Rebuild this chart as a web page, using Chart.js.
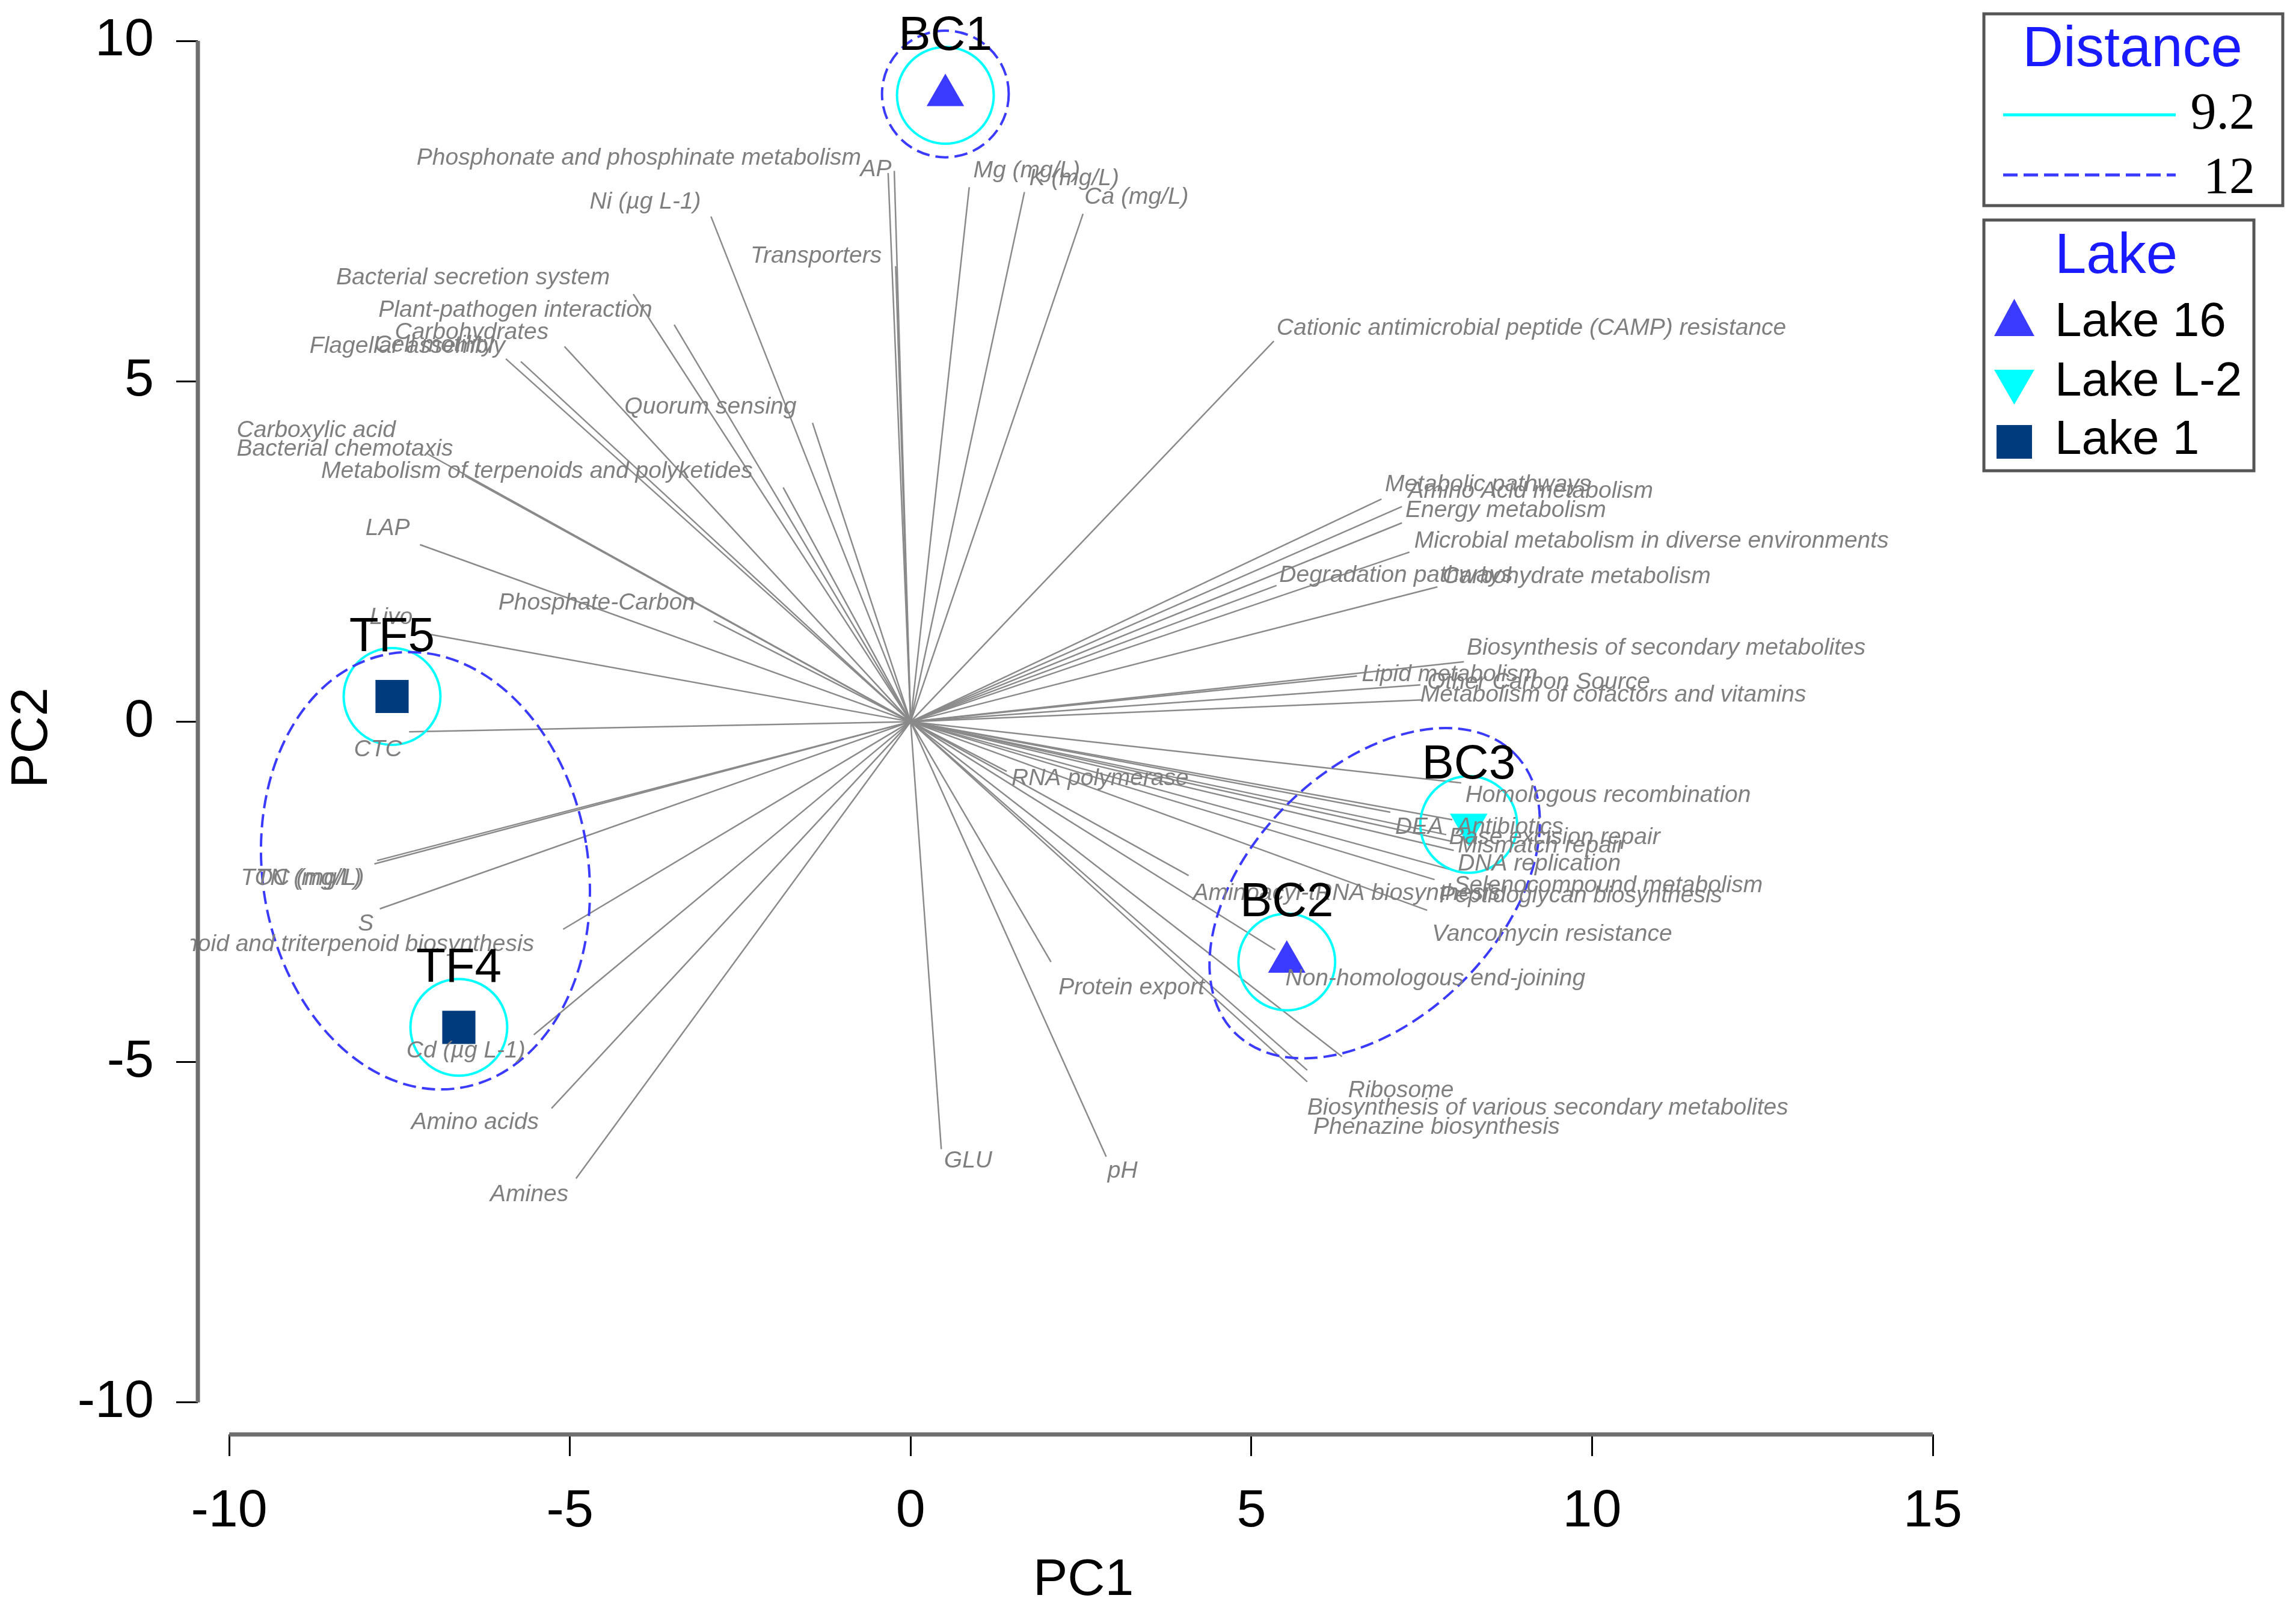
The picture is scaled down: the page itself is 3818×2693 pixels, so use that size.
<!DOCTYPE html>
<html lang="en">
<head>
<meta charset="UTF-8">
<title>PCA biplot</title>
<script src="https://cdn.jsdelivr.net/npm/chart.js"></script>
<style>
  html, body { margin: 0; padding: 0; background: #fff; }
  #wrap { width: 3818px; height: 2693px; }
</style>
</head>
<body>
<div id="wrap"><canvas id="biplot" width="3818" height="2693"></canvas></div>
<script>
// sample scores (PC1, PC2)
const sampleNames = ['BC1', 'BC2', 'BC3', 'TF4', 'TF5'];
const sampleLake  = ['Lake 16', 'Lake 16', 'Lake L-2', 'Lake 1', 'Lake 1'];
const sampleX = [0.51, 5.52, 8.19, -6.63, -7.61];
const sampleY = [9.20, -3.53, -1.51, -4.49, 0.37];

const lakeNames = ['Lake 16', 'Lake L-2', 'Lake 1'];

// distance contours (PC units)
const distanceLevels = ['9.2', '12'];
const innerRadius = 0.71;              // 9.2 ring round every sample
const outerX  = [0.51, -7.12, 6.81];   // 12 contours
const outerY  = [9.22, -2.19, -2.52];
const outerRx = [0.93, 2.39, 2.90];
const outerRy = [0.93, 3.23, 1.83];
const outerTilt = [0, -9, -45];

// variable vectors: end point and label anchor (left edge, middle)
const vectorNames = [
  'Phosphonate and phosphinate metabolism', 'AP', 'Mg (mg/L)', 'K (mg/L)', 'Ca (mg/L)',
  'Ni (µg L-1)', 'Transporters', 'Bacterial secretion system', 'Plant-pathogen interaction',
  'Carbohydrates', 'Cell motility', 'Flagellar assembly', 'Quorum sensing', 'Carboxylic acid',
  'Bacterial chemotaxis', 'Metabolism of terpenoids and polyketides', 'LAP', 'Phosphate-Carbon',
  'Livo', 'CTC', 'TOC (mg/L)', 'TN (mg/L)', 'S', 'Sesquiterpenoid and triterpenoid biosynthesis',
  'Cd (µg L-1)', 'Amino acids', 'Amines', 'GLU', 'pH', 'Protein export', 'Ribosome',
  'Biosynthesis of various secondary metabolites', 'Phenazine biosynthesis',
  'Non-homologous end-joining', 'Vancomycin resistance', 'Aminoacyl-tRNA biosynthesis',
  'Peptidoglycan biosynthesis', 'Selenocompound metabolism', 'DNA replication', 'Mismatch repair',
  'Base excision repair', 'Antibiotics', 'DEA', 'Homologous recombination', 'RNA polymerase',
  'Cationic antimicrobial peptide (CAMP) resistance', 'Metabolic pathways', 'Amino Acid metabolism',
  'Energy metabolism', 'Microbial metabolism in diverse environments', 'Degradation pathways',
  'Carbohydrate metabolism', 'Biosynthesis of secondary metabolites', 'Lipid metabolism',
  'Other Carbon Source', 'Metabolism of cofactors and vitamins'
];
const vectorX = [-0.33, -0.24, 0.86, 1.67, 2.53, -2.93, -0.22, -4.07, -3.47, -5.08, -5.72, -5.94,
  -1.44, -6.54, -7.10, -1.87, -7.20, -2.89, -7.10, -7.36, -7.87, -7.83, -7.79, -5.10, -5.53, -5.27,
  -4.91, 0.45, 2.87, 2.06, 6.33, 5.82, 5.82, 5.35, 7.58, 4.08, 7.69, 7.91, 7.97, 7.95, 7.86, 7.95,
  7.04, 8.08, 1.41, 5.33, 6.91, 7.21, 7.21, 7.32, 5.37, 7.73, 8.12, 6.55, 7.48, 7.50];
const vectorY = [8.06, 8.09, 7.85, 7.78, 7.46, 7.42, 6.69, 6.28, 5.83, 5.51, 5.29, 5.33, 4.39, 3.61,
  3.94, 3.44, 2.60, 1.48, 1.29, -0.15, -2.09, -2.04, -2.75, -3.05, -4.60, -5.68, -6.71, -6.28, -6.39,
  -3.53, -4.92, -5.12, -5.29, -3.35, -2.77, -2.26, -2.32, -2.17, -1.89, -1.76, -1.66, -1.44, -1.33,
  -0.90, -0.73, 5.59, 3.27, 3.16, 2.92, 2.49, 2.00, 1.98, 0.88, 0.67, 0.54, 0.32];
const labelX = [-7.25, -0.74, 0.92, 1.74, 2.55, -4.71, -2.35, -8.43, -7.81, -7.57, -7.87, -8.82,
  -4.20, -9.89, -9.89, -8.65, -8.00, -6.05, -7.94, -8.17, -9.83, -9.61, -8.11, -12.49, -7.40, -7.33,
  -6.17, 0.49, 2.89, 2.17, 6.42, 5.82, 5.91, 5.50, 7.65, 4.14, 7.76, 7.97, 8.03, 8.03, 7.90, 8.01,
  7.11, 8.14, 1.48, 5.37, 6.96, 7.30, 7.26, 7.39, 5.41, 7.80, 8.16, 6.62, 7.58, 7.48];
const labelY = [8.28, 8.11, 8.09, 7.98, 7.70, 7.63, 6.84, 6.52, 6.04, 5.72, 5.53, 5.51, 4.62, 4.28,
  4.00, 3.68, 2.84, 1.74, 1.53, -0.41, -2.30, -2.30, -2.97, -3.27, -4.84, -5.89, -6.95, -6.45, -6.60,
  -3.91, -5.42, -5.68, -5.96, -3.78, -3.12, -2.52, -2.56, -2.41, -2.09, -1.83, -1.70, -1.55, -1.55,
  -1.08, -0.84, 5.78, 3.48, 3.38, 3.10, 2.65, 2.15, 2.13, 1.08, 0.69, 0.58, 0.39];

const xTicks = [-10, -5, 0, 5, 10, 15];
const yTicks = [-10, -5, 0, 5, 10];

const lakeColor = { 'Lake 16': '#3b3bff', 'Lake L-2': '#00ffff', 'Lake 1': '#003c7d' };
const lakeStyle = { 'Lake 16': ['triangle', 0, 36], 'Lake L-2': ['triangle', 180, 36], 'Lake 1': ['rect', 0, 39] };
const FONT = '"Liberation Sans", Arial, sans-serif';

const datasets = [];
lakeNames.forEach(lake => {
  const pts = [];
  sampleNames.forEach((n, i) => { if (sampleLake[i] === lake) pts.push({ x: sampleX[i], y: sampleY[i] }); });
  datasets.push({
    label: lake, data: pts, order: 0,
    pointStyle: lakeStyle[lake][0], rotation: lakeStyle[lake][1], pointRadius: lakeStyle[lake][2],
    backgroundColor: lakeColor[lake], borderColor: lakeColor[lake], borderWidth: 0
  });
});
vectorNames.forEach((n, i) => {
  datasets.push({
    label: n, data: [{ x: 0, y: 0 }, { x: vectorX[i], y: vectorY[i] }], order: 1,
    showLine: true, borderColor: '#8a8a8a', borderWidth: 2.5, pointRadius: 0
  });
});

const overlay = {
  id: 'overlay',
  afterDatasetsDraw(chart) {
    const { ctx, scales: { x, y } } = chart;
    const px = v => x.getPixelForValue(v), py = v => y.getPixelForValue(v);
    const ux = px(1) - px(0), uy = py(0) - py(1);
    ctx.save();

    // 9.2 rings
    ctx.strokeStyle = '#00ffff';
    ctx.lineWidth = 4;
    sampleNames.forEach((n, i) => {
      ctx.beginPath();
      ctx.ellipse(px(sampleX[i]), py(sampleY[i]), innerRadius * ux, innerRadius * uy, 0, 0, Math.PI * 2);
      ctx.stroke();
    });
    // 12 contours
    ctx.strokeStyle = '#3b3bff';
    ctx.setLineDash([22, 10]);
    outerX.forEach((cx, i) => {
      ctx.beginPath();
      ctx.ellipse(px(cx), py(outerY[i]), outerRx[i] * ux, outerRy[i] * uy, outerTilt[i] * Math.PI / 180, 0, Math.PI * 2);
      ctx.stroke();
    });
    ctx.setLineDash([]);

    // vector labels
    ctx.save();
    ctx.beginPath();
    ctx.rect(317, 0, chart.width - 317, chart.height);
    ctx.clip();
    ctx.font = 'italic 39px ' + FONT;
    ctx.fillStyle = '#7f7f7f';
    ctx.textAlign = 'left';
    ctx.textBaseline = 'middle';
    vectorNames.forEach((n, i) => ctx.fillText(n, px(labelX[i]), py(labelY[i])));
    ctx.restore();

    // sample labels
    ctx.font = '80px ' + FONT;
    ctx.fillStyle = '#000';
    ctx.textAlign = 'center';
    ctx.textBaseline = 'middle';
    sampleNames.forEach((n, i) => ctx.fillText(n, px(sampleX[i]), py(sampleY[i]) - 98));

    // offset axis lines
    ctx.strokeStyle = '#6e6e6e';
    ctx.lineWidth = 7;
    ctx.beginPath();
    ctx.moveTo(x.left, py(yTicks[yTicks.length - 1]));
    ctx.lineTo(x.left, py(yTicks[0]));
    ctx.moveTo(px(xTicks[0]), y.bottom);
    ctx.lineTo(px(xTicks[xTicks.length - 1]), y.bottom);
    ctx.stroke();

    drawLegend(ctx);
    ctx.restore();
  }
};

function drawLegend(ctx) {
  ctx.save();
  ctx.strokeStyle = '#555';
  ctx.lineWidth = 5;
  ctx.strokeRect(3299, 23, 497, 319);
  ctx.strokeRect(3299, 366, 449, 417);

  ctx.fillStyle = '#1a1aff';
  ctx.font = '94px ' + FONT;
  ctx.textAlign = 'center';
  ctx.textBaseline = 'alphabetic';
  ctx.fillText('Distance', 3546, 110);
  ctx.fillText('Lake', 3519, 454);

  ctx.lineWidth = 5;
  ctx.strokeStyle = '#00ffff';
  ctx.beginPath(); ctx.moveTo(3331, 191); ctx.lineTo(3618, 191); ctx.stroke();
  ctx.strokeStyle = '#3b3bff';
  ctx.setLineDash([24, 10]);
  ctx.beginPath(); ctx.moveTo(3331, 291); ctx.lineTo(3618, 291); ctx.stroke();
  ctx.setLineDash([]);

  ctx.fillStyle = '#000';
  ctx.font = '86px "Liberation Serif", "Times New Roman", serif';
  ctx.textAlign = 'right';
  ctx.fillText(distanceLevels[0], 3750, 214);
  ctx.fillText(distanceLevels[1], 3750, 321);

  const rows = [559, 658, 755];
  lakeNames.forEach((lake, i) => {
    ctx.fillStyle = lakeColor[lake];
    ctx.beginPath();
    if (lake === 'Lake 16') {
      ctx.moveTo(3316, 559); ctx.lineTo(3383, 559); ctx.lineTo(3349.5, 497);
    } else if (lake === 'Lake L-2') {
      ctx.moveTo(3316, 615); ctx.lineTo(3383, 615); ctx.lineTo(3349.5, 673);
    } else {
      ctx.rect(3320, 707, 59, 56);
    }
    ctx.closePath();
    ctx.fill();
    ctx.fillStyle = '#000';
    ctx.font = '80px ' + FONT;
    ctx.textAlign = 'left';
    ctx.fillText(lake, 3417, rows[i]);
  });
  ctx.restore();
}

const ctx = document.getElementById('biplot').getContext('2d');
const chart = new Chart(ctx, {
  type: 'scatter',
  data: { datasets: datasets },
  plugins: [overlay],
  options: {
    responsive: false,
    animation: false,
    devicePixelRatio: 1,
    layout: { padding: { left: 0, top: 68, right: 604, bottom: 0 } },
    plugins: { legend: { display: false }, tooltip: { enabled: false } },
    scales: {
      x: {
        type: 'linear', min: -10.46, max: 15,
        afterBuildTicks: s => { s.ticks = xTicks.map(v => ({ value: v })); },
        afterFit: s => { s.height = 307; s.paddingLeft = 0; s.paddingRight = 0; },
        border: { display: false },
        grid: { drawOnChartArea: false, drawTicks: true, tickLength: 36, color: '#000', lineWidth: 3 },
        ticks: { color: '#000', font: { family: FONT, size: 88 }, padding: 40, maxRotation: 0 },
        title: { display: true, text: '\u2002\u2009PC1', color: '#000', font: { family: FONT, size: 86 }, padding: { top: 0, bottom: 12 } }
      },
      y: {
        type: 'linear', min: -10.47, max: 10,
        afterBuildTicks: s => { s.ticks = yTicks.map(v => ({ value: v })); },
        afterFit: s => { s.width = 329; s.paddingTop = 0; s.paddingBottom = 0; },
        border: { display: false },
        grid: { drawOnChartArea: false, drawTicks: true, tickLength: 36, color: '#000', lineWidth: 3 },
        ticks: { color: '#000', font: { family: FONT, size: 88 }, padding: 37 },
        title: { display: true, text: 'PC2', color: '#000', font: { family: FONT, size: 86 }, padding: { top: 3, bottom: 0 } }
      }
    }
  }
});
</script>
</body>
</html>
